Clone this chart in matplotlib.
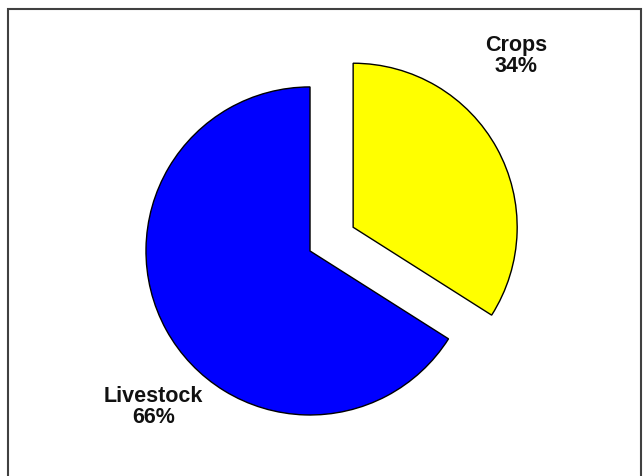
import matplotlib
matplotlib.use('Agg')
import matplotlib.pyplot as plt
from matplotlib.patches import Rectangle

labels = ['Crops', 'Livestock']
shares = [34, 66]
colors = ['#ffff00', '#0000ff']

plt.rcParams['font.family'] = ['Liberation Sans', 'DejaVu Sans']

fig = plt.figure(figsize=(6.43, 4.76), dpi=100)
ax = fig.add_axes([0, 0, 1, 1])

ax.pie(shares, colors=colors, explode=[0.3, 0], startangle=90, counterclock=False,
       radius=1.0, center=(0, 0),
       wedgeprops=dict(edgecolor='black', linewidth=1.0))

# labels placed like the original
label_pos = [(1.256, 1.19), (-0.954, -0.95)]
for name, val, (x, y) in zip(labels, shares, label_pos):
    ax.text(x, y, '%s\n%d%%' % (name, val), ha='center', va='center',
            fontsize=15.5, fontweight='bold', linespacing=1.0, color='#111111')

ax.set_xlim(-1.89, 2.03)
ax.set_ylim(-1.372, 1.53)
ax.set_aspect('auto')
ax.axis('off')

fig.patches.append(Rectangle((8 / 643, -0.01), 633 / 643, 1 - 9 / 476 + 0.01,
                             transform=fig.transFigure, fill=False,
                             edgecolor='#404040', linewidth=1.5))

fig.savefig('out.png', dpi=100)
